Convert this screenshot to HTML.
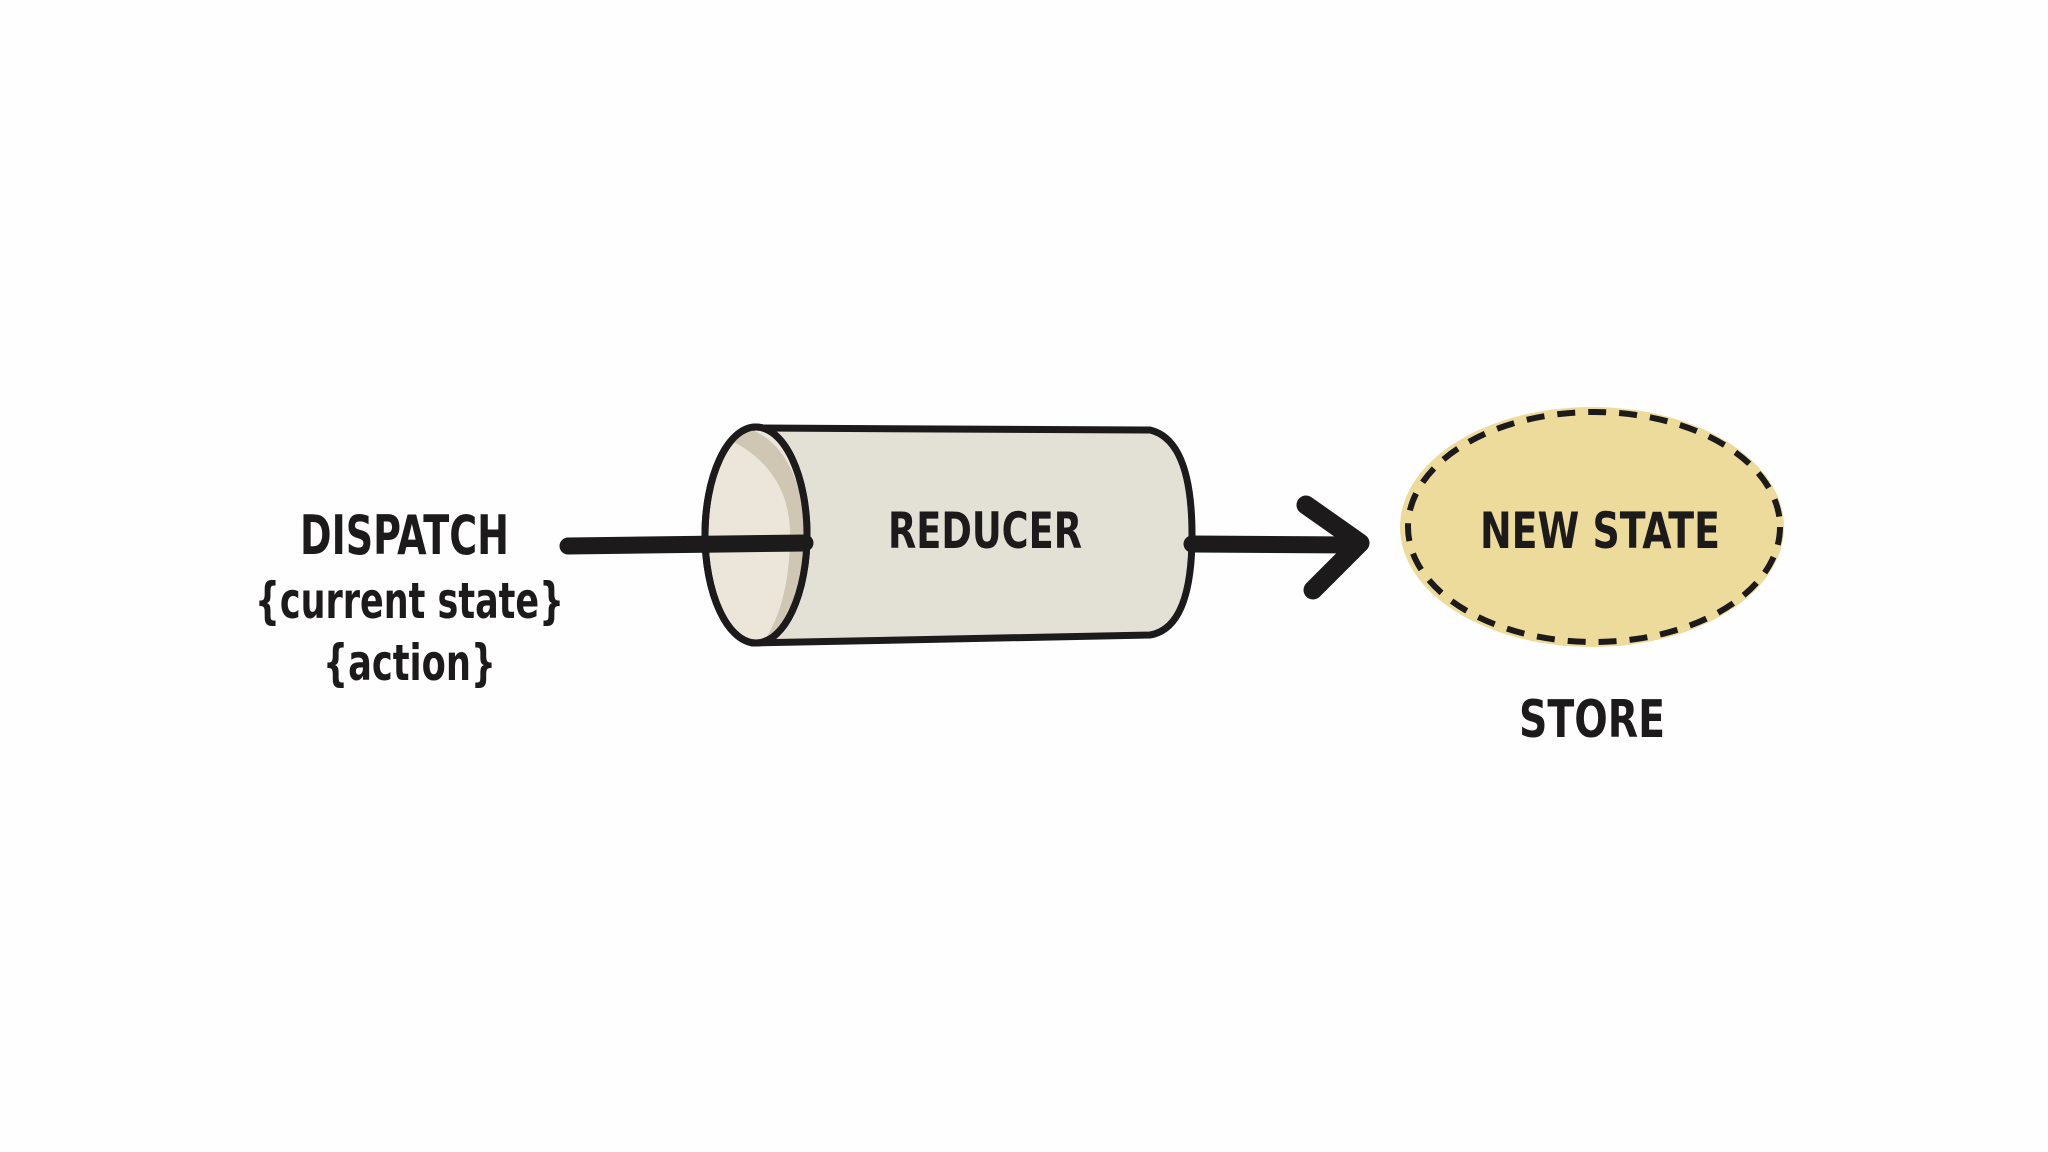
<!DOCTYPE html>
<html><head><meta charset="utf-8"><style>
html,body{margin:0;padding:0;background:#fefefe;}
svg{display:block}
text{font-family:"DejaVu Sans Condensed","Liberation Sans Narrow","Liberation Sans",sans-serif;font-weight:bold;fill:#1c1a1a}
</style></head><body>
<svg width="2048" height="1152" viewBox="0 0 2048 1152">
<rect width="2048" height="1152" fill="#fefefe"/>
<path d="M752 428 L1150 430 Q1192 440 1192 535 Q1192 628 1150 635 L752 643 Z" fill="#e3e0d5" stroke="#1c1a1a" stroke-width="7" stroke-linejoin="round"/>
<ellipse cx="756" cy="535" rx="51" ry="108" fill="#ece6da" stroke="#1c1a1a" stroke-width="7"/>
<path d="M730 440 Q790 470 790 535 Q790 600 765 640 Q800 620 806 535 Q800 450 752 430 Z" fill="#cfc7b4"/>
<ellipse cx="756" cy="535" rx="51" ry="108" fill="none" stroke="#1c1a1a" stroke-width="7"/>
<line x1="568" y1="546" x2="805" y2="543" stroke="#1c1a1a" stroke-width="17" stroke-linecap="round"/>
<line x1="1192" y1="544" x2="1355" y2="545" stroke="#1c1a1a" stroke-width="17" stroke-linecap="round"/>
<polyline points="1306,505 1360,543 1313,590" fill="none" stroke="#1c1a1a" stroke-width="19" stroke-linecap="round" stroke-linejoin="round"/>
<ellipse cx="1592" cy="527" rx="192" ry="120" fill="#ecdb9a"/>
<ellipse cx="1594" cy="527" rx="186" ry="115" fill="none" stroke="#1c1a1a" stroke-width="6" stroke-dasharray="18 13"/>
<text x="888" y="548" font-size="50" textLength="194" lengthAdjust="spacingAndGlyphs">REDUCER</text>
<text x="1480" y="548" font-size="50" textLength="240" lengthAdjust="spacingAndGlyphs">NEW STATE</text>
<text x="1519" y="737" font-size="52" textLength="146" lengthAdjust="spacingAndGlyphs">STORE</text>
<text x="300" y="554" font-size="54" textLength="209" lengthAdjust="spacingAndGlyphs">DISPATCH</text>
<text x="255" y="618" font-size="50" textLength="309" lengthAdjust="spacingAndGlyphs" style="font-weight:600">{current state}</text>
<text x="323" y="680" font-size="50" textLength="173" lengthAdjust="spacingAndGlyphs" style="font-weight:600">{action}</text>
</svg>
</body></html>
